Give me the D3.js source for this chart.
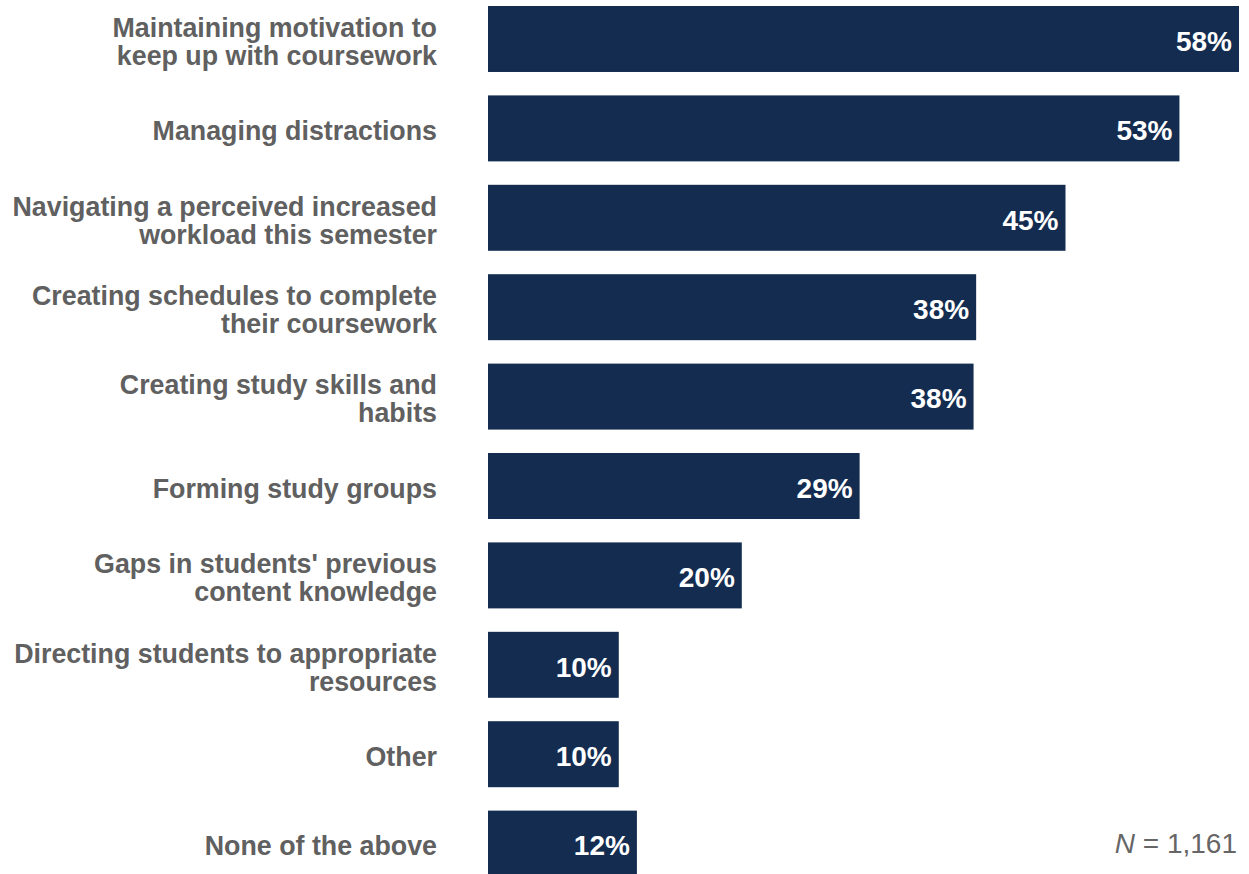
<!DOCTYPE html>
<html><head><meta charset="utf-8">
<script src="https://cdn.jsdelivr.net/npm/d3@7"></script>
<style>html,body{margin:0;padding:0;background:#fff;}svg{display:block;}</style>
</head><body>
<script>
const categories = [
  ["Maintaining motivation to", "keep up with coursework"],
  ["Managing distractions"],
  ["Navigating a perceived increased", "workload this semester"],
  ["Creating schedules to complete", "their coursework"],
  ["Creating study skills and", "habits"],
  ["Forming study groups"],
  ["Gaps in students' previous", "content knowledge"],
  ["Directing students to appropriate", "resources"],
  ["Other"],
  ["None of the above"]
];
const values = [58, 53.4, 44.6, 37.7, 37.5, 28.7, 19.6, 10.1, 10.1, 11.5];
const sampleNote = "1,161";

const W = 1249, H = 874;
const svg = d3.select("body").append("svg").attr("width", W).attr("height", H);

const x = d3.scaleLinear().domain([0, 58]).range([488, 1239]);
const y = d3.scaleBand().domain(d3.range(values.length)).range([6, 876.6]).paddingInner(0.262).paddingOuter(0);

const font = "'Liberation Sans', Arial, sans-serif";

svg.selectAll("rect.bar").data(values).enter().append("rect")
  .attr("class", "bar")
  .attr("x", x(0))
  .attr("y", (d, i) => y(i))
  .attr("width", d => x(d) - x(0))
  .attr("height", y.bandwidth())
  .attr("fill", "#132c50");

svg.selectAll("text.val").data(values).enter().append("text")
  .attr("class", "val")
  .attr("x", d => x(d) - 7)
  .attr("y", (d, i) => y(i) + y.bandwidth() / 2 + 2)
  .attr("dy", "0.35em")
  .attr("text-anchor", "end")
  .attr("fill", "#ffffff")
  .attr("font-family", font)
  .attr("font-weight", "bold")
  .attr("font-size", 28)
  .text(d => Math.round(d) + "%");

const lineH = 28;
const catG = svg.selectAll("text.cat").data(categories).enter().append("text")
  .attr("class", "cat")
  .attr("text-anchor", "end")
  .attr("fill", "#606060")
  .attr("font-family", font)
  .attr("font-weight", "bold")
  .attr("font-size", 26.8);
catG.each(function(lines, i) {
  const cy = y(i) + y.bandwidth() / 2 + 2.5;
  const t = d3.select(this);
  lines.forEach((ln, k) => {
    t.append("tspan")
      .attr("x", 437)
      .attr("y", cy + (k - (lines.length - 1) / 2) * lineH)
      .attr("dy", "0.35em")
      .text(ln);
  });
});

const note = svg.append("text")
  .attr("x", 1237).attr("y", 853)
  .attr("text-anchor", "end")
  .attr("fill", "#666666")
  .attr("font-family", font)
  .attr("font-size", 28);
note.append("tspan").attr("font-style", "italic").text("N");
note.append("tspan").text(" = " + sampleNote);
</script>
</body></html>
